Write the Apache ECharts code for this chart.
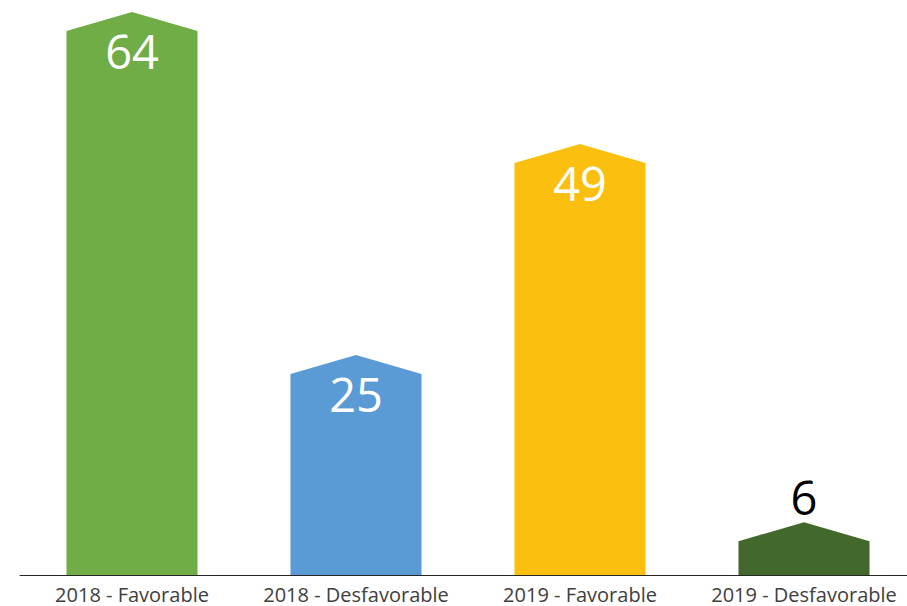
<!DOCTYPE html>
<html>
<head>
<meta charset="utf-8">
<title>Favorable / Desfavorable</title>
<script src="https://cdn.jsdelivr.net/npm/echarts@6/dist/echarts.min.js"></script>
<style>
  html, body { margin: 0; padding: 0; background: #fff; }
  #chart { width: 907px; height: 606px; }
</style>
</head>
<body>
<div id="chart"></div>
<script>
const categories = ['2018 - Favorable', '2018 - Desfavorable', '2019 - Favorable', '2019 - Desfavorable']
const values = [64, 25, 49, 6]
const barColors = ['#70AD47', '#5B9BD5', '#FBC00F', '#43682B']

const chart = echarts.init(document.getElementById('chart'), null, { renderer: 'svg' })

// bar with a pointed "roof" on top, value written inside (or above when too short)
function renderHouse(params, api) {
  const idx = api.value(0)
  const v = api.value(1)
  const top = api.coord([idx, v])
  const base = api.coord([idx, 0])
  const w = api.size([1, 0])[0] * 0.585
  const roof = 19
  const l = top[0] - w / 2
  const r = top[0] + w / 2
  const inside = v > 15
  return {
    type: 'group',
    children: [{
      type: 'polygon',
      shape: {
        points: [[l, base[1]], [l, top[1] + roof], [top[0], top[1]], [r, top[1] + roof], [r, base[1]]]
      },
      style: { fill: barColors[idx] }
    }, {
      type: 'text',
      x: top[0],
      y: inside ? top[1] + 39 : top[1] - 25,
      style: {
        text: String(v),
        fill: inside ? '#ffffff' : '#000000',
        font: '47px "Open Sans", sans-serif',
        align: 'center',
        verticalAlign: 'middle'
      }
    }]
  }
}

chart.setOption({
  animation: false,
  grid: { left: 20, width: 896, top: 12, bottom: 31, outerBoundsMode: 'none', containLabel: false },
  xAxis: {
    type: 'category',
    data: categories,
    axisTick: { show: false },
    axisLine: { lineStyle: { color: '#262626', width: 1 } },
    axisLabel: {
      color: '#404040',
      fontSize: 20,
      lineHeight: 14,
      fontFamily: '"Open Sans", sans-serif',
      margin: 12,
      interval: 0
    }
  },
  yAxis: {
    type: 'value',
    min: 0,
    max: 64,
    show: false,
    splitLine: { show: false }
  },
  series: [{
    type: 'custom',
    renderItem: renderHouse,
    encode: { x: 0, y: 1 },
    data: values.map((v, i) => [i, v])
  }]
})
</script>
</body>
</html>
